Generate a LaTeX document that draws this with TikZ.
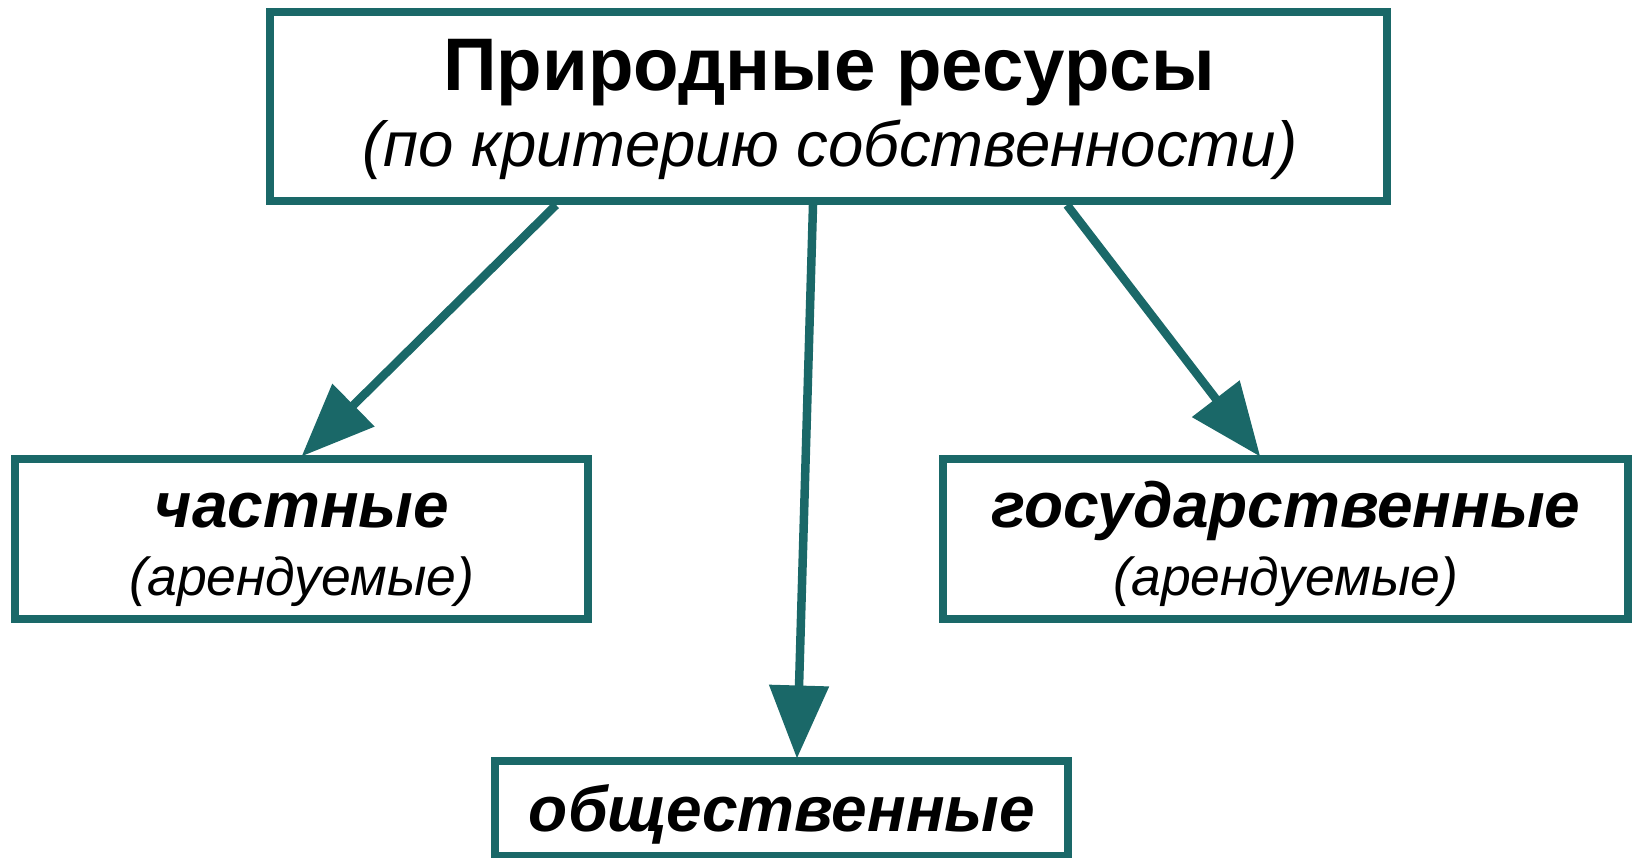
\documentclass[tikz,border=0pt]{standalone}
\usepackage{fontspec}
\setmainfont{Liberation Sans}
\usetikzlibrary{arrows.meta}
\definecolor{teal1}{RGB}{26,104,104}
\tikzset{
  box/.style={draw=teal1, line width=8pt, rectangle, inner sep=0pt},
  arr/.style={draw=teal1, line width=8.5pt, -{Triangle[length=73pt,width=58pt]}, shorten >=-2pt},
  txt/.style={anchor=base, inner sep=0pt}
}
\begin{document}
\begin{tikzpicture}[x=1pt,y=1pt]
\useasboundingbox (0,0) rectangle (1637,-858);
% boxes
\node[box, minimum width=1117pt, minimum height=189pt] (top) at (828.5,-106.5) {};
\node[box, minimum width=573pt, minimum height=160pt] (left) at (301.5,-539) {};
\node[box, minimum width=685pt, minimum height=160pt] (right) at (1285.5,-539) {};
\node[box, minimum width=573pt, minimum height=95pt] (bottom) at (781.5,-808) {};
% texts
\node[txt] (t1) at (829,-91) {\fontsize{74.5}{80}\selectfont\bfseries Природные ресурсы};
\node[txt] (t2) at (830,-167) {\fontsize{63.5}{70}\selectfont\itshape (по критерию собственности)};
\node[txt] (l1) at (302,-527) {\fontsize{64}{70}\selectfont\bfseries\itshape частные};
\node[txt] (l2) at (302,-595) {\fontsize{53.5}{60}\selectfont\itshape (арендуемые)};
\node[txt] (r1) at (1286,-527) {\fontsize{64}{70}\selectfont\bfseries\itshape государственные};
\node[txt] (r2) at (1286,-595) {\fontsize{53.5}{60}\selectfont\itshape (арендуемые)};
\node[txt] (b1) at (782,-831) {\fontsize{64}{70}\selectfont\bfseries\itshape общественные};
% arrows
\draw[arr] ([xshift=-272.5pt]top.south) -- ([xshift=1.5pt]left.north);
\draw[arr] ([xshift=-15.5pt]top.south) -- ([xshift=15.5pt]bottom.north);
\draw[arr] ([xshift=238.5pt]top.south) -- ([xshift=-26.5pt]right.north);
\end{tikzpicture}
\end{document}
